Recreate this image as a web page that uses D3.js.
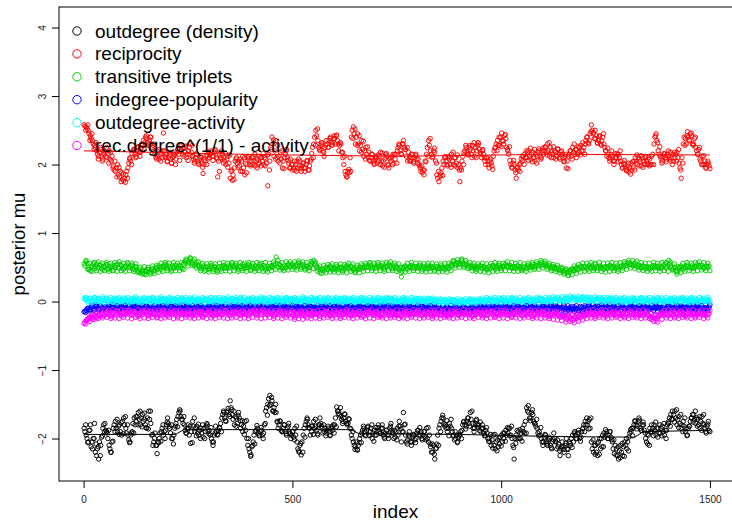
<!DOCTYPE html>
<html>
<head>
<meta charset="utf-8">
<script src="https://cdn.jsdelivr.net/npm/d3@7"></script>
<style>
  body { margin: 0; background: #ffffff; }
  svg { display: block; font-family: "Liberation Sans", Arial, sans-serif; }
</style>
</head>
<body>
<svg id="chart" width="732" height="524"></svg>
<script>
// Posterior draws of mu. Each series is kept in three arrays of 300 draws:
//   main: iterations 1, 6, 11, ...   mid: 3, 8, 13, ...   alt: 5, 10, 15, ...
const iterStep = 5;
const drawOffsets = [0, 2, 4];

const outdegree = [
  -1.85,-1.95,-2.05,-1.8,-2.15,-1.78,-2.25,-2.3,-2.1,-1.85,
  -1.78,-1.92,-2.1,-2.2,-1.85,-1.75,-1.9,-1.8,-1.95,-1.7,
  -1.85,-1.95,-2.05,-1.9,-1.7,-1.75,-1.62,-1.8,-1.65,-1.72,
  -1.85,-1.6,-1.78,-2.1,-1.92,-2.22,-2.0,-1.9,-1.95,-1.88,
  -1.7,-1.85,-2.0,-1.95,-1.78,-1.68,-1.6,-1.72,-1.8,-1.92,
  -1.85,-2.07,-1.75,-1.9,-1.82,-1.95,-1.85,-1.98,-1.9,-1.8,
  -1.88,-2.0,-2.05,-1.82,-1.95,-1.85,-1.7,-1.62,-1.75,-1.56,
  -1.45,-1.65,-1.8,-1.7,-1.62,-1.85,-1.9,-1.75,-2.0,-2.15,
  -2.24,-2.05,-1.9,-1.85,-1.95,-1.88,-1.92,-1.6,-1.5,-1.37,
  -1.45,-1.55,-1.62,-1.85,-1.75,-1.9,-1.8,-1.95,-1.78,-2.0,
  -1.9,-1.85,-2.05,-2.2,-2.24,-1.95,-1.8,-1.72,-1.85,-1.9,
  -1.75,-1.82,-1.95,-1.7,-1.85,-1.9,-1.92,-1.85,-1.95,-1.88,
  -1.8,-1.54,-1.6,-1.68,-1.75,-1.65,-1.8,-1.72,-1.95,-2.05,
  -2.12,-2.17,-2.0,-1.92,-1.85,-1.95,-1.82,-1.9,-2.0,-1.88,
  -1.95,-1.8,-1.92,-1.85,-2.0,-1.88,-1.95,-1.78,-1.92,-1.98,
  -1.85,-1.75,-2.05,-1.62,-1.95,-2.02,-1.98,-2.05,-1.95,-2.0,
  -1.88,-1.95,-2.02,-1.9,-1.85,-2.05,-2.12,-2.2,-2.3,-2.08,
  -1.85,-1.75,-1.7,-1.8,-1.9,-1.78,-1.85,-1.95,-2.0,-2.05,
  -1.95,-1.88,-1.75,-1.82,-1.7,-1.62,-1.78,-1.85,-1.72,-1.8,
  -1.9,-1.85,-1.95,-1.92,-2.0,-2.1,-1.95,-2.15,-2.02,-2.08,
  -1.95,-2.0,-1.88,-1.92,-1.85,-2.0,-2.3,-1.95,-1.9,-2.0,
  -1.85,-1.92,-1.55,-1.62,-1.7,-1.65,-1.78,-1.85,-1.9,-2.0,
  -2.05,-1.95,-2.1,-2.0,-2.15,-1.92,-2.05,-2.12,-2.25,-2.05,
  -2.2,-2.0,-2.25,-2.1,-1.95,-1.9,-2.0,-1.92,-1.98,-1.85,
  -1.75,-1.8,-1.72,-2.05,-2.2,-2.1,-2.25,-2.0,-2.12,-1.92,
  -1.95,-2.0,-1.9,-2.05,-2.22,-2.15,-2.3,-2.1,-2.25,-2.05,
  -2.15,-1.98,-1.9,-1.85,-1.75,-1.82,-1.73,-1.88,-1.8,-2.0,
  -2.08,-1.85,-1.9,-1.8,-1.95,-1.85,-1.92,-1.82,-1.95,-1.88,
  -1.78,-1.65,-1.72,-1.6,-1.8,-1.68,-1.85,-1.75,-1.9,-1.95,
  -1.82,-1.7,-1.65,-1.78,-1.72,-1.85,-1.68,-1.8,-1.92,-1.75
];
const outdegreeMid = [
  -1.9,-2.0,-1.88,-2.12,-2.0,-2.2,-2.15,-2.05,-1.98,-1.8,
  -1.88,-2.0,-2.15,-2.05,-1.8,-1.85,-1.82,-1.9,-1.75,-1.8,
  -1.92,-2.02,-1.95,-1.78,-1.8,-1.68,-1.72,-1.7,-1.75,-1.8,
  -1.7,-1.72,-1.95,-2.05,-2.1,-2.05,-1.92,-1.85,-1.9,-1.8,
  -1.78,-1.92,-2.0,-1.85,-1.72,-1.62,-1.68,-1.78,-1.88,-1.85,
  -1.95,-1.9,-1.82,-1.85,-1.92,-1.88,-1.92,-1.85,-1.82,-1.9,
  -1.95,-2.05,-1.95,-1.9,-1.88,-1.78,-1.65,-1.7,-1.62,-1.65,
  -1.55,-1.72,-1.68,-1.78,-1.7,-1.8,-1.82,-1.88,-2.1,-2.2,
  -2.12,-1.95,-1.88,-1.92,-1.9,-1.95,-1.8,-1.55,-1.42,-1.5,
  -1.6,-1.62,-1.75,-1.8,-1.88,-1.85,-1.9,-1.85,-1.92,-1.95,
  -1.98,-1.95,-2.15,-2.1,-2.05,-1.85,-1.75,-1.8,-1.95,-1.82,
  -1.85,-1.88,-1.8,-1.78,-1.92,-1.85,-1.88,-1.9,-1.85,-1.8,
  -1.7,-1.6,-1.65,-1.72,-1.7,-1.75,-1.78,-1.85,-2.0,-2.1,
  -2.05,-2.1,-1.95,-1.88,-1.9,-1.88,-1.95,-1.85,-1.92,-1.95,
  -1.88,-1.9,-1.85,-1.95,-1.92,-1.95,-1.85,-1.88,-2.0,-1.9,
  -1.95,-1.82,-1.9,-1.8,-2.05,-1.95,-2.05,-1.98,-2.02,-1.92,
  -1.95,-1.9,-1.95,-1.98,-2.0,-1.95,-2.2,-2.1,-2.15,-1.95,
  -1.8,-1.7,-1.78,-1.85,-1.85,-1.82,-1.9,-2.02,-1.95,-1.98,
  -1.9,-1.8,-1.8,-1.75,-1.78,-1.72,-1.85,-1.78,-1.8,-1.88,
  -1.85,-1.92,-1.88,-2.0,-2.05,-2.02,-2.1,-2.05,-2.12,-1.98,
  -2.05,-1.92,-1.95,-1.85,-1.95,-2.1,-2.0,-1.88,-2.0,-1.92,
  -1.9,-1.75,-1.6,-1.7,-1.62,-1.75,-1.82,-1.92,-1.95,-2.05,
  -1.98,-2.05,-2.02,-2.1,-2.05,-2.0,-2.15,-2.08,-2.15,-2.12,
  -2.1,-2.15,-2.05,-2.0,-2.05,-1.95,-1.92,-2.0,-1.9,-1.8,
  -1.8,-1.75,-1.85,-2.15,-2.1,-2.2,-2.05,-2.15,-1.95,-1.98,
  -1.9,-1.95,-1.98,-2.15,-2.1,-2.25,-2.18,-2.2,-2.12,-2.1,
  -2.05,-1.92,-1.85,-1.8,-1.8,-1.75,-1.85,-1.8,-1.88,-2.05,
  -1.95,-1.9,-1.85,-1.88,-1.85,-1.92,-1.85,-1.9,-1.88,-1.8,
  -1.7,-1.72,-1.65,-1.7,-1.72,-1.78,-1.8,-1.82,-1.85,-1.85,
  -1.75,-1.65,-1.72,-1.7,-1.8,-1.75,-1.78,-1.85,-1.82,-1.88
];
const outdegreeAlt = [
  -1.8,-2.06,-1.88,-2.05,-2.0,-2.08,-2.12,-2.25,-1.96,-1.9,
  -1.9,-1.88,-2.2,-2.04,-1.9,-1.72,-1.94,-1.77,-1.93,-1.68,
  -1.8,-2.06,-1.92,-1.92,-1.68,-1.8,-1.6,-1.83,-1.63,-1.84,
  -1.86,-1.6,-1.94,-2.0,-2.1,-2.06,-2.04,-1.8,-2.0,-1.76,
  -1.82,-1.8,-2.08,-1.82,-1.83,-1.58,-1.72,-1.68,-1.92,-1.8,
  -1.82,-2.06,-1.7,-1.96,-1.79,-2.0,-1.8,-2.0,-1.78,-1.93,
  -1.84,-2.1,-1.92,-1.94,-1.84,-1.9,-1.6,-1.74,-1.6,-1.68,
  -1.58,-1.6,-1.82,-1.66,-1.74,-1.74,-1.94,-1.74,-2.0,-2.26,
  -2.1,-2.08,-1.81,-1.96,-1.84,-2.0,-1.78,-1.66,-1.52,-1.4,
  -1.6,-1.5,-1.76,-1.74,-1.9,-1.8,-1.93,-1.82,-1.93,-1.9,
  -2.02,-1.82,-2.18,-2.07,-2.2,-1.98,-1.7,-1.84,-1.82,-1.94,
  -1.72,-1.93,-1.8,-1.82,-1.8,-1.96,-1.82,-1.96,-1.82,-1.92,
  -1.83,-1.64,-1.55,-1.78,-1.64,-1.78,-1.71,-1.86,-1.9,-2.16,
  -2.16,-2.06,-2.06,-1.82,-1.96,-1.84,-1.96,-1.8,-2.04,-1.84,
  -1.84,-1.93,-1.8,-1.98,-1.88,-2.0,-1.82,-1.91,-1.88,-2.02,
  -1.82,-1.86,-1.9,-1.79,-2.08,-1.9,-2.1,-1.94,-2.06,-1.88,
  -1.84,-2.0,-1.9,-2.02,-1.84,-2.08,-2.08,-2.23,-2.14,-2.1,
  -1.9,-1.66,-1.82,-1.74,-1.96,-1.72,-1.96,-1.9,-2.06,-1.94,
  -2.0,-1.76,-1.86,-1.7,-1.82,-1.6,-1.9,-1.74,-1.84,-1.76,
  -1.8,-1.96,-1.84,-2.04,-1.94,-2.14,-1.94,-2.18,-1.99,-2.11,
  -1.92,-2.04,-1.84,-1.96,-1.82,-2.13,-2.07,-2.0,-1.87,-2.04,
  -1.8,-1.92,-1.52,-1.74,-1.58,-1.78,-1.72,-1.96,-1.84,-2.1,
  -1.94,-2.08,-1.98,-2.13,-2.02,-2.04,-2.02,-2.18,-2.12,-2.16,
  -2.07,-2.16,-2.07,-2.13,-1.92,-2.0,-1.88,-2.04,-1.86,-1.9,
  -1.7,-1.86,-1.7,-2.02,-2.23,-2.07,-2.23,-2.0,-2.12,-1.87,
  -2.0,-1.9,-2.02,-2.02,-2.24,-2.12,-2.28,-2.07,-2.26,-2.0,
  -2.18,-1.87,-1.96,-1.74,-1.86,-1.7,-1.88,-1.76,-1.92,-1.94,
  -2.1,-1.8,-1.96,-1.76,-1.98,-1.8,-1.96,-1.78,-2.0,-1.76,
  -1.82,-1.6,-1.76,-1.58,-1.84,-1.65,-1.9,-1.7,-1.96,-1.82,
  -1.7,-1.76,-1.6,-1.82,-1.68,-1.88,-1.65,-1.9,-1.79,-1.9
];

const reciprocity = [
  2.58,2.55,2.5,2.42,2.35,2.28,2.2,2.12,2.22,2.08,
  2.18,2.1,2.2,2.05,1.98,1.9,2.0,1.82,1.88,1.76,
  1.85,1.95,2.1,2.16,2.22,2.12,2.25,2.18,2.28,2.32,
  2.38,2.3,2.4,2.28,2.15,2.2,2.08,2.18,2.46,2.1,
  2.05,2.15,2.02,2.12,2.08,2.22,2.28,2.15,2.25,2.1,
  2.2,2.3,2.12,2.05,2.15,2.0,2.1,1.87,2.05,2.14,
  2.1,2.18,2.12,2.2,1.82,2.15,2.08,2.1,2.0,2.12,
  1.8,1.77,1.95,2.1,2.05,1.9,2.12,1.85,2.0,2.08,
  2.05,2.12,1.98,2.08,2.02,2.1,2.0,2.08,1.69,2.05,
  2.4,2.12,2.35,2.05,2.18,1.95,2.1,2.22,2.02,1.95,
  2.0,1.92,2.05,1.98,1.9,2.02,1.95,2.05,1.98,2.16,
  2.3,2.5,2.35,2.2,2.3,2.12,2.35,2.25,2.4,2.3,
  2.38,2.43,2.2,2.3,2.1,1.9,1.82,1.88,2.4,2.55,
  2.3,2.45,2.2,2.35,2.12,2.25,2.1,2.05,2.15,2.0,
  2.1,2.05,2.18,1.98,2.08,2.12,1.95,2.05,2.15,2.08,
  2.2,2.28,2.15,2.35,2.22,2.05,2.12,2.1,2.02,2.15,
  2.08,1.95,1.88,1.92,2.15,2.35,2.2,2.12,2.18,1.85,
  1.75,1.88,2.05,2.12,1.98,2.08,2.15,2.0,2.1,1.95,
  1.75,2.05,2.18,2.25,2.15,2.22,2.28,2.12,2.2,2.3,
  2.15,2.22,2.05,2.1,1.95,2.02,2.12,2.25,2.35,2.28,
  2.46,2.3,2.38,2.2,2.06,1.95,2.0,1.8,1.92,2.02,
  2.05,2.15,2.1,2.2,2.08,2.18,2.05,2.12,2.2,2.1,
  2.15,2.25,2.3,2.12,2.2,2.1,2.18,2.22,2.08,2.15,
  2.05,1.95,2.12,2.2,2.25,2.15,2.22,2.18,2.28,2.2,
  2.3,2.4,2.35,2.58,2.46,2.38,2.31,2.42,2.35,2.3,
  2.2,2.15,2.08,2.12,2.05,2.1,2.15,2.05,1.95,2.0,
  1.92,1.89,2.02,1.95,2.1,2.0,2.08,1.98,2.05,2.12,
  2.02,2.08,2.0,2.3,2.45,2.2,2.12,2.05,2.15,2.08,
  2.12,2.05,2.15,2.1,2.18,2.02,1.8,2.3,2.38,2.48,
  2.35,2.42,2.3,2.25,2.15,2.08,2.12,2.0,1.95,2.02
];
const reciprocityMid = [
  2.56,2.52,2.45,2.38,2.3,2.25,2.15,2.18,2.12,2.15,
  2.12,2.16,2.08,2.12,1.92,1.95,1.85,1.9,1.78,1.8,
  1.9,2.02,2.05,2.2,2.15,2.2,2.18,2.24,2.35,2.4,
  2.32,2.36,2.3,2.2,2.1,2.12,2.15,2.1,2.2,2.15,
  2.1,2.08,2.1,2.15,2.18,2.15,2.2,2.24,2.18,2.15,
  2.25,2.18,2.08,2.1,2.05,2.08,2.02,2.0,2.12,2.08,
  2.15,2.12,2.18,2.1,2.05,2.1,2.15,2.05,2.08,2.02,
  1.9,1.85,2.05,2.02,1.98,2.05,1.95,2.02,2.1,2.0,
  2.1,2.05,2.05,2.0,2.1,2.05,2.1,2.02,2.15,2.25,
  2.3,2.2,2.1,2.12,2.08,2.05,2.15,2.1,1.95,2.0,
  1.95,2.0,1.95,2.05,1.98,1.95,2.0,1.92,2.05,2.25,
  2.4,2.42,2.25,2.28,2.2,2.25,2.3,2.35,2.32,2.38,
  2.3,2.35,2.28,2.18,2.0,1.85,1.9,2.1,2.5,2.45,
  2.4,2.3,2.28,2.22,2.2,2.15,2.18,2.1,2.05,2.08,
  2.02,2.12,2.05,2.05,2.15,2.0,2.08,2.12,2.02,2.15,
  2.25,2.2,2.3,2.25,2.12,2.18,2.05,2.15,2.1,2.08,
  2.0,1.9,1.92,2.05,2.25,2.28,2.15,2.2,2.05,1.8,
  1.82,1.95,2.0,2.05,2.1,2.0,2.05,2.1,2.02,2.0,
  1.95,2.12,2.2,2.18,2.25,2.15,2.2,2.25,2.28,2.22,
  2.1,2.15,2.0,2.05,2.05,1.98,2.2,2.3,2.28,2.4,
  2.35,2.42,2.25,2.15,2.0,2.02,1.92,1.95,2.0,2.08,
  2.12,2.1,2.18,2.12,2.15,2.1,2.15,2.18,2.12,2.2,
  2.2,2.18,2.2,2.25,2.15,2.2,2.12,2.15,2.18,2.1,
  2.12,2.05,2.15,2.12,2.18,2.22,2.15,2.25,2.2,2.25,
  2.35,2.32,2.45,2.5,2.38,2.42,2.35,2.3,2.4,2.25,
  2.12,2.1,2.15,2.05,2.1,2.15,2.1,2.0,2.02,1.95,
  1.98,1.95,1.92,2.05,2.02,2.1,2.05,2.1,2.0,2.05,
  2.1,2.0,2.15,2.4,2.35,2.15,2.08,2.12,2.1,2.15,
  2.08,2.1,2.05,2.15,2.1,1.95,2.1,2.4,2.3,2.4,
  2.45,2.3,2.38,2.2,2.22,2.05,2.0,2.05,2.0,1.98
];
const reciprocityAlt = [
  2.5,2.58,2.35,2.45,2.22,2.32,2.08,2.25,2.05,2.2,
  2.25,2.02,2.18,1.95,2.05,1.82,1.96,1.75,1.86,1.74,
  1.8,2.08,2.0,2.22,2.1,2.26,2.12,2.3,2.22,2.42,
  2.28,2.4,2.25,2.3,2.08,2.22,2.05,2.2,2.12,2.04,
  2.18,2.02,2.15,2.0,2.22,2.06,2.28,2.12,2.27,2.06,
  2.14,2.28,2.02,2.16,2.02,2.12,1.96,2.08,2.0,2.18,
  2.2,2.06,2.22,2.08,1.9,2.2,2.02,2.16,1.96,2.14,
  1.92,1.78,2.08,1.96,2.08,1.9,2.1,1.88,2.12,1.98,
  2.0,2.15,1.95,2.12,1.98,2.16,1.98,2.14,1.92,2.22,
  2.36,2.08,2.28,2.02,2.2,1.94,2.2,2.06,2.08,1.92,
  2.05,1.9,2.08,1.94,2.02,1.9,2.06,1.92,2.08,2.1,
  2.28,2.52,2.22,2.32,2.18,2.28,2.25,2.38,2.28,2.42,
  2.42,2.3,2.32,2.18,2.12,1.82,1.93,1.9,2.38,2.52,
  2.28,2.42,2.18,2.34,2.08,2.26,2.06,2.15,2.02,2.12,
  2.14,2.0,2.17,1.96,2.16,1.99,2.1,2.0,2.15,2.02,
  2.3,2.16,2.3,2.22,2.25,2.06,2.15,2.04,2.13,2.02,
  1.98,1.98,1.85,2.04,2.12,2.38,2.1,2.24,2.02,1.9,
  1.84,1.84,2.1,2.0,2.12,1.96,2.18,1.98,2.14,1.92,
  1.92,2.0,2.28,2.14,2.28,2.1,2.32,2.1,2.32,2.18,
  2.2,2.1,2.1,2.0,2.08,1.93,2.24,2.2,2.4,2.26,
  2.34,2.44,2.22,2.26,1.96,2.06,1.88,1.96,1.9,2.12,
  2.0,2.2,2.06,2.24,2.04,2.22,2.02,2.23,2.08,2.24,
  2.26,2.14,2.32,2.1,2.26,2.08,2.23,2.1,2.2,2.04,
  2.15,1.94,2.2,2.08,2.3,2.1,2.26,2.14,2.32,2.15,
  2.4,2.3,2.48,2.46,2.5,2.32,2.41,2.28,2.45,2.2,
  2.24,2.05,2.2,2.0,2.16,2.04,2.2,1.95,2.06,1.91,
  2.02,1.86,2.04,1.92,2.14,1.98,2.13,1.96,2.1,2.0,
  1.98,2.12,2.0,2.42,2.32,2.26,2.02,2.16,2.04,2.2,
  2.18,2.0,2.18,2.05,2.22,1.92,2.02,2.28,2.42,2.36,
  2.46,2.28,2.4,2.15,2.25,2.0,2.13,1.95,2.05,1.94
];

const transitiveTriplets = [
  0.55,0.6,0.5,0.45,0.52,0.48,0.55,0.5,0.53,0.47,
  0.5,0.54,0.48,0.52,0.46,0.5,0.55,0.49,0.52,0.47,
  0.51,0.55,0.49,0.53,0.47,0.5,0.44,0.42,0.46,0.4,
  0.44,0.47,0.43,0.48,0.45,0.5,0.52,0.47,0.5,0.54,
  0.48,0.51,0.46,0.5,0.53,0.49,0.52,0.48,0.56,0.6,
  0.58,0.63,0.55,0.52,0.57,0.5,0.48,0.52,0.46,0.5,
  0.48,0.53,0.47,0.5,0.45,0.51,0.49,0.53,0.48,0.52,
  0.5,0.55,0.49,0.52,0.47,0.51,0.54,0.48,0.5,0.53,
  0.47,0.5,0.52,0.48,0.55,0.5,0.53,0.46,0.51,0.49,
  0.52,0.55,0.65,0.5,0.53,0.48,0.52,0.5,0.55,0.51,
  0.54,0.49,0.53,0.56,0.5,0.54,0.48,0.52,0.5,0.55,
  0.6,0.53,0.5,0.42,0.48,0.45,0.5,0.47,0.52,0.46,
  0.49,0.51,0.47,0.5,0.45,0.49,0.53,0.48,0.51,0.46,
  0.43,0.5,0.47,0.52,0.49,0.53,0.5,0.55,0.48,0.52,
  0.5,0.54,0.49,0.52,0.47,0.51,0.55,0.5,0.48,0.53,
  0.5,0.46,0.36,0.48,0.52,0.47,0.5,0.53,0.48,0.51,
  0.49,0.53,0.47,0.51,0.5,0.48,0.52,0.49,0.46,0.51,
  0.48,0.52,0.5,0.47,0.51,0.49,0.55,0.58,0.53,0.57,
  0.55,0.6,0.52,0.56,0.5,0.53,0.49,0.51,0.47,0.5,
  0.52,0.48,0.5,0.46,0.51,0.49,0.53,0.47,0.5,0.52,
  0.48,0.51,0.55,0.5,0.53,0.48,0.51,0.49,0.52,0.5,
  0.47,0.51,0.49,0.53,0.5,0.54,0.49,0.55,0.52,0.57,
  0.53,0.55,0.5,0.52,0.48,0.51,0.47,0.5,0.45,0.48,
  0.42,0.46,0.38,0.44,0.48,0.45,0.5,0.47,0.52,0.49,
  0.51,0.47,0.53,0.49,0.5,0.54,0.48,0.52,0.5,0.47,
  0.51,0.49,0.53,0.48,0.5,0.52,0.47,0.51,0.49,0.55,
  0.53,0.57,0.55,0.52,0.56,0.5,0.53,0.49,0.52,0.48,
  0.51,0.47,0.5,0.53,0.49,0.52,0.48,0.5,0.54,0.49,
  0.6,0.52,0.47,0.5,0.4,0.48,0.52,0.47,0.5,0.53,
  0.49,0.52,0.48,0.51,0.55,0.5,0.53,0.48,0.52,0.5
];
const transitiveTripletsMid = [
  0.52,0.56,0.47,0.5,0.55,0.51,0.49,0.53,0.48,0.51,
  0.53,0.47,0.51,0.49,0.52,0.53,0.5,0.54,0.48,0.5,
  0.53,0.5,0.52,0.48,0.51,0.46,0.47,0.44,0.43,0.45,
  0.47,0.42,0.46,0.44,0.49,0.47,0.49,0.51,0.53,0.5,
  0.52,0.48,0.53,0.49,0.5,0.52,0.49,0.54,0.58,0.56,
  0.61,0.57,0.59,0.55,0.53,0.52,0.5,0.49,0.51,0.47,
  0.51,0.49,0.51,0.47,0.49,0.47,0.52,0.5,0.5,0.49,
  0.53,0.51,0.52,0.49,0.5,0.48,0.51,0.52,0.54,0.5,
  0.52,0.48,0.49,0.51,0.52,0.48,0.5,0.49,0.48,0.52,
  0.5,0.53,0.56,0.54,0.5,0.51,0.49,0.53,0.52,0.54,
  0.51,0.52,0.56,0.53,0.52,0.51,0.51,0.49,0.53,0.57,
  0.56,0.5,0.47,0.45,0.46,0.48,0.47,0.5,0.49,0.48,
  0.47,0.49,0.5,0.48,0.47,0.51,0.5,0.51,0.49,0.48,
  0.46,0.48,0.5,0.49,0.51,0.5,0.53,0.52,0.5,0.49,
  0.52,0.51,0.52,0.49,0.5,0.53,0.52,0.48,0.51,0.5,
  0.48,0.5,0.44,0.51,0.49,0.5,0.52,0.5,0.51,0.49,
  0.52,0.5,0.49,0.48,0.52,0.5,0.49,0.51,0.49,0.48,
  0.5,0.49,0.48,0.5,0.49,0.52,0.53,0.55,0.56,0.54,
  0.58,0.55,0.54,0.53,0.52,0.5,0.52,0.48,0.5,0.52,
  0.49,0.51,0.48,0.49,0.48,0.52,0.5,0.5,0.53,0.49,
  0.51,0.53,0.52,0.51,0.5,0.5,0.49,0.52,0.49,0.48,
  0.5,0.48,0.52,0.5,0.52,0.51,0.52,0.53,0.55,0.54,
  0.56,0.52,0.53,0.49,0.5,0.49,0.48,0.47,0.46,0.44,
  0.45,0.43,0.42,0.47,0.46,0.48,0.47,0.5,0.5,0.51,
  0.49,0.5,0.5,0.52,0.48,0.51,0.5,0.49,0.48,0.5,
  0.49,0.52,0.5,0.51,0.48,0.5,0.49,0.52,0.53,0.52,
  0.56,0.54,0.53,0.55,0.53,0.52,0.5,0.51,0.5,0.5,
  0.49,0.49,0.52,0.5,0.51,0.5,0.5,0.52,0.51,0.52,
  0.55,0.49,0.49,0.45,0.44,0.5,0.5,0.49,0.52,0.51,
  0.5,0.5,0.5,0.53,0.52,0.52,0.5,0.5,0.51,0.52
];
const transitiveTripletsAlt = [
  0.58,0.47,0.56,0.44,0.57,0.45,0.58,0.44,0.56,0.45,
  0.57,0.44,0.56,0.45,0.57,0.44,0.58,0.45,0.56,0.44,
  0.57,0.45,0.56,0.44,0.55,0.42,0.5,0.4,0.51,0.39,
  0.5,0.4,0.52,0.41,0.53,0.43,0.56,0.44,0.57,0.45,
  0.56,0.44,0.57,0.45,0.56,0.45,0.57,0.47,0.62,0.52,
  0.64,0.53,0.62,0.49,0.58,0.45,0.56,0.44,0.55,0.43,
  0.56,0.44,0.55,0.43,0.56,0.44,0.57,0.45,0.56,0.44,
  0.57,0.45,0.56,0.44,0.57,0.45,0.56,0.44,0.57,0.45,
  0.56,0.44,0.57,0.45,0.56,0.44,0.57,0.43,0.56,0.45,
  0.58,0.47,0.6,0.46,0.57,0.45,0.58,0.46,0.58,0.47,
  0.58,0.46,0.59,0.47,0.58,0.46,0.57,0.45,0.59,0.48,
  0.58,0.44,0.52,0.41,0.53,0.42,0.54,0.43,0.55,0.43,
  0.54,0.42,0.55,0.43,0.54,0.42,0.56,0.44,0.55,0.42,
  0.53,0.42,0.55,0.44,0.56,0.45,0.57,0.45,0.56,0.44,
  0.57,0.45,0.56,0.44,0.57,0.45,0.58,0.45,0.56,0.44,
  0.55,0.42,0.5,0.43,0.56,0.44,0.57,0.45,0.56,0.44,
  0.56,0.44,0.55,0.43,0.56,0.44,0.56,0.44,0.55,0.43,
  0.55,0.44,0.56,0.43,0.56,0.45,0.6,0.49,0.61,0.5,
  0.62,0.5,0.6,0.48,0.57,0.45,0.56,0.44,0.55,0.44,
  0.56,0.43,0.55,0.42,0.56,0.44,0.57,0.44,0.56,0.45,
  0.56,0.45,0.58,0.45,0.57,0.44,0.56,0.44,0.57,0.45,
  0.55,0.44,0.56,0.46,0.57,0.47,0.58,0.47,0.6,0.49,
  0.59,0.47,0.56,0.45,0.54,0.44,0.53,0.42,0.5,0.4,
  0.48,0.38,0.46,0.39,0.52,0.41,0.54,0.43,0.56,0.44,
  0.56,0.44,0.57,0.45,0.56,0.45,0.57,0.44,0.56,0.43,
  0.56,0.44,0.57,0.45,0.56,0.44,0.57,0.45,0.58,0.47,
  0.6,0.49,0.6,0.48,0.59,0.46,0.57,0.45,0.56,0.44,
  0.56,0.44,0.57,0.45,0.56,0.44,0.57,0.45,0.57,0.44,
  0.58,0.46,0.55,0.43,0.51,0.42,0.56,0.44,0.57,0.45,
  0.56,0.44,0.57,0.45,0.58,0.46,0.57,0.45,0.56,0.45
];

const indegreePopularity = [
  -0.15,-0.13,-0.1,-0.12,-0.08,-0.11,-0.07,-0.1,-0.06,-0.09,
  -0.12,-0.08,-0.1,-0.06,-0.09,-0.11,-0.07,-0.1,-0.08,-0.05,
  -0.09,-0.07,-0.11,-0.08,-0.1,-0.06,-0.09,-0.12,-0.08,-0.1,
  -0.07,-0.09,-0.11,-0.08,-0.1,-0.12,-0.07,-0.09,-0.06,-0.1,
  -0.08,-0.11,-0.07,-0.09,-0.1,-0.06,-0.08,-0.11,-0.09,-0.07,
  -0.1,-0.08,-0.06,-0.09,-0.11,-0.07,-0.1,-0.08,-0.12,-0.09,
  -0.07,-0.1,-0.08,-0.06,-0.09,-0.11,-0.08,-0.1,-0.07,-0.09,
  -0.11,-0.08,-0.1,-0.06,-0.09,-0.07,-0.1,-0.12,-0.08,-0.09,
  -0.07,-0.1,-0.08,-0.11,-0.06,-0.09,-0.08,-0.1,-0.07,-0.09,
  -0.11,-0.08,-0.06,-0.1,-0.09,-0.07,-0.11,-0.08,-0.1,-0.06,
  -0.09,-0.08,-0.1,-0.07,-0.11,-0.09,-0.06,-0.08,-0.1,-0.07,
  -0.09,-0.11,-0.08,-0.1,-0.06,-0.09,-0.07,-0.1,-0.08,-0.11,
  -0.07,-0.09,-0.1,-0.08,-0.06,-0.1,-0.09,-0.07,-0.11,-0.08,
  -0.1,-0.07,-0.09,-0.11,-0.08,-0.06,-0.1,-0.09,-0.07,-0.1,
  -0.08,-0.11,-0.07,-0.09,-0.1,-0.06,-0.08,-0.1,-0.09,-0.07,
  -0.1,-0.08,-0.11,-0.09,-0.07,-0.1,-0.08,-0.06,-0.09,-0.11,
  -0.08,-0.1,-0.07,-0.09,-0.11,-0.08,-0.1,-0.06,-0.09,-0.08,
  -0.1,-0.12,-0.09,-0.11,-0.08,-0.1,-0.13,-0.09,-0.11,-0.08,
  -0.1,-0.12,-0.08,-0.11,-0.09,-0.12,-0.1,-0.08,-0.11,-0.09,
  -0.07,-0.1,-0.08,-0.11,-0.09,-0.06,-0.1,-0.08,-0.11,-0.07,
  -0.09,-0.1,-0.08,-0.06,-0.09,-0.11,-0.07,-0.1,-0.08,-0.09,
  -0.11,-0.08,-0.1,-0.06,-0.09,-0.07,-0.1,-0.12,-0.08,-0.09,
  -0.07,-0.1,-0.08,-0.11,-0.09,-0.06,-0.1,-0.08,-0.09,-0.11,
  -0.08,-0.1,-0.12,-0.09,-0.11,-0.08,-0.1,-0.13,-0.09,-0.11,
  -0.08,-0.1,-0.07,-0.09,-0.11,-0.08,-0.1,-0.06,-0.09,-0.08,
  -0.1,-0.07,-0.09,-0.11,-0.08,-0.1,-0.06,-0.09,-0.08,-0.1,
  -0.11,-0.08,-0.09,-0.07,-0.1,-0.08,-0.11,-0.09,-0.06,-0.1,
  -0.08,-0.09,-0.11,-0.07,-0.1,-0.08,-0.09,-0.12,-0.08,-0.1,
  -0.07,-0.09,-0.11,-0.08,-0.1,-0.06,-0.09,-0.08,-0.1,-0.07,
  -0.09,-0.11,-0.08,-0.1,-0.07,-0.09,-0.08,-0.11,-0.09,-0.1
];
const indegreePopularityMid = [
  -0.14,-0.11,-0.12,-0.08,-0.1,-0.06,-0.09,-0.12,-0.08,-0.1,
  -0.07,-0.1,-0.12,-0.08,-0.06,-0.09,-0.11,-0.07,-0.1,-0.09,
  -0.11,-0.06,-0.09,-0.1,-0.07,-0.11,-0.08,-0.06,-0.1,-0.08,
  -0.1,-0.12,-0.07,-0.09,-0.06,-0.08,-0.11,-0.1,-0.08,-0.07,
  -0.1,-0.07,-0.09,-0.12,-0.07,-0.1,-0.09,-0.06,-0.1,-0.11,
  -0.07,-0.1,-0.09,-0.11,-0.07,-0.09,-0.06,-0.11,-0.08,-0.1,
  -0.09,-0.06,-0.11,-0.09,-0.07,-0.08,-0.1,-0.07,-0.11,-0.08,
  -0.07,-0.1,-0.06,-0.09,-0.11,-0.08,-0.07,-0.09,-0.1,-0.06,
  -0.09,-0.07,-0.11,-0.08,-0.1,-0.07,-0.1,-0.08,-0.11,-0.07,
  -0.08,-0.1,-0.09,-0.07,-0.11,-0.09,-0.08,-0.1,-0.07,-0.09,
  -0.11,-0.07,-0.09,-0.1,-0.08,-0.06,-0.1,-0.09,-0.07,-0.11,
  -0.07,-0.09,-0.1,-0.07,-0.09,-0.11,-0.08,-0.07,-0.1,-0.08,
  -0.1,-0.07,-0.08,-0.11,-0.09,-0.07,-0.11,-0.08,-0.09,-0.1,
  -0.08,-0.1,-0.07,-0.09,-0.1,-0.08,-0.07,-0.11,-0.09,-0.08,
  -0.1,-0.08,-0.09,-0.07,-0.11,-0.09,-0.1,-0.07,-0.08,-0.1,
  -0.08,-0.1,-0.09,-0.07,-0.1,-0.08,-0.1,-0.09,-0.11,-0.08,
  -0.1,-0.07,-0.09,-0.11,-0.08,-0.1,-0.07,-0.09,-0.1,-0.11,
  -0.12,-0.09,-0.11,-0.1,-0.12,-0.09,-0.11,-0.12,-0.09,-0.11,
  -0.13,-0.09,-0.1,-0.12,-0.1,-0.09,-0.12,-0.1,-0.08,-0.1,
  -0.09,-0.08,-0.1,-0.07,-0.08,-0.1,-0.09,-0.1,-0.08,-0.09,
  -0.07,-0.09,-0.1,-0.08,-0.11,-0.08,-0.09,-0.07,-0.1,-0.11,
  -0.08,-0.1,-0.07,-0.09,-0.1,-0.09,-0.08,-0.1,-0.11,-0.07,
  -0.09,-0.08,-0.1,-0.07,-0.1,-0.09,-0.08,-0.11,-0.1,-0.09,
  -0.11,-0.12,-0.09,-0.11,-0.1,-0.12,-0.11,-0.1,-0.12,-0.09,
  -0.1,-0.08,-0.09,-0.11,-0.08,-0.1,-0.07,-0.09,-0.1,-0.09,
  -0.08,-0.1,-0.1,-0.08,-0.09,-0.07,-0.1,-0.08,-0.09,-0.11,
  -0.09,-0.1,-0.07,-0.1,-0.09,-0.1,-0.07,-0.08,-0.1,-0.08,
  -0.1,-0.1,-0.08,-0.09,-0.08,-0.11,-0.1,-0.09,-0.11,-0.08,
  -0.09,-0.08,-0.09,-0.1,-0.07,-0.09,-0.1,-0.09,-0.08,-0.09,
  -0.1,-0.09,-0.1,-0.08,-0.09,-0.1,-0.1,-0.09,-0.11,-0.08
];
const indegreePopularityAlt = [
  -0.16,-0.1,-0.14,-0.05,-0.13,-0.04,-0.12,-0.06,-0.13,-0.04,
  -0.12,-0.05,-0.14,-0.04,-0.11,-0.06,-0.13,-0.04,-0.12,-0.05,
  -0.13,-0.05,-0.12,-0.04,-0.14,-0.05,-0.11,-0.04,-0.13,-0.06,
  -0.12,-0.04,-0.13,-0.05,-0.11,-0.04,-0.14,-0.06,-0.12,-0.05,
  -0.13,-0.04,-0.12,-0.06,-0.13,-0.05,-0.11,-0.04,-0.13,-0.05,
  -0.12,-0.06,-0.14,-0.04,-0.12,-0.05,-0.13,-0.04,-0.11,-0.05,
  -0.13,-0.04,-0.12,-0.05,-0.14,-0.06,-0.12,-0.04,-0.13,-0.05,
  -0.11,-0.05,-0.13,-0.04,-0.12,-0.06,-0.13,-0.05,-0.12,-0.04,
  -0.13,-0.06,-0.12,-0.04,-0.13,-0.05,-0.11,-0.04,-0.14,-0.05,
  -0.12,-0.04,-0.13,-0.06,-0.12,-0.05,-0.13,-0.04,-0.11,-0.05,
  -0.13,-0.05,-0.12,-0.04,-0.13,-0.06,-0.12,-0.05,-0.14,-0.04,
  -0.12,-0.05,-0.13,-0.04,-0.11,-0.05,-0.13,-0.06,-0.12,-0.04,
  -0.13,-0.05,-0.12,-0.04,-0.14,-0.05,-0.12,-0.06,-0.13,-0.04,
  -0.11,-0.05,-0.13,-0.04,-0.12,-0.06,-0.13,-0.05,-0.12,-0.04,
  -0.13,-0.05,-0.11,-0.04,-0.13,-0.06,-0.12,-0.05,-0.13,-0.04,
  -0.12,-0.06,-0.13,-0.04,-0.12,-0.05,-0.14,-0.04,-0.12,-0.05,
  -0.13,-0.04,-0.12,-0.05,-0.13,-0.06,-0.12,-0.04,-0.13,-0.06,
  -0.15,-0.06,-0.14,-0.07,-0.15,-0.06,-0.14,-0.07,-0.15,-0.06,
  -0.14,-0.07,-0.15,-0.06,-0.14,-0.07,-0.15,-0.06,-0.13,-0.05,
  -0.12,-0.05,-0.13,-0.04,-0.12,-0.06,-0.13,-0.05,-0.12,-0.04,
  -0.13,-0.05,-0.11,-0.04,-0.13,-0.06,-0.12,-0.05,-0.13,-0.04,
  -0.12,-0.06,-0.13,-0.04,-0.12,-0.05,-0.14,-0.04,-0.12,-0.05,
  -0.13,-0.04,-0.12,-0.05,-0.13,-0.06,-0.12,-0.04,-0.14,-0.05,
  -0.15,-0.06,-0.14,-0.07,-0.15,-0.06,-0.14,-0.07,-0.15,-0.06,
  -0.13,-0.05,-0.12,-0.04,-0.13,-0.06,-0.12,-0.05,-0.13,-0.04,
  -0.12,-0.05,-0.13,-0.04,-0.12,-0.06,-0.13,-0.05,-0.11,-0.04,
  -0.13,-0.05,-0.12,-0.04,-0.13,-0.06,-0.12,-0.05,-0.13,-0.04,
  -0.12,-0.06,-0.13,-0.05,-0.14,-0.04,-0.12,-0.05,-0.13,-0.06,
  -0.12,-0.04,-0.13,-0.05,-0.12,-0.06,-0.13,-0.04,-0.12,-0.05,
  -0.13,-0.05,-0.12,-0.04,-0.13,-0.06,-0.12,-0.05,-0.13,-0.05
];

const outdegreeActivity = [
  0.05,0.03,0.0,0.04,0.02,0.06,0.01,0.03,0.0,0.04,
  0.02,0.05,0.01,0.03,-0.01,0.02,0.04,0.0,0.03,0.01,
  0.04,0.02,0.0,0.03,0.05,0.01,0.03,-0.01,0.02,0.04,
  0.0,0.03,0.01,0.05,0.02,0.0,0.03,0.01,0.04,0.02,
  0.0,0.02,0.04,0.01,0.03,0.0,0.02,0.05,0.01,0.03,
  0.02,0.0,0.04,0.02,0.01,0.03,-0.01,0.02,0.04,0.01,
  0.03,0.0,0.02,0.05,0.01,0.03,0.0,0.02,0.04,0.01,
  0.02,0.04,0.0,0.03,0.01,0.06,0.02,0.0,0.03,0.01,
  0.04,0.02,0.0,0.03,0.01,0.02,0.05,0.0,0.03,0.02,
  0.0,0.03,0.01,0.04,0.02,0.0,0.03,0.05,0.01,0.02,
  0.04,0.01,0.03,0.0,0.02,0.05,0.01,0.03,0.0,0.02,
  0.03,0.01,0.04,0.02,0.0,0.03,0.01,0.05,0.02,0.0,
  0.03,0.01,0.02,0.04,0.0,0.02,0.03,0.01,0.04,0.02,
  0.0,0.03,0.01,0.02,0.04,0.0,0.02,0.01,0.03,0.0,
  0.02,0.04,0.01,0.03,0.0,0.02,0.05,0.01,0.03,0.0,
  0.02,0.0,0.03,0.01,0.04,0.02,0.0,0.03,0.01,0.02,
  0.04,0.01,0.03,0.0,0.02,0.05,0.01,0.03,0.0,0.02,
  0.01,0.03,0.0,0.02,-0.01,0.01,0.03,0.0,0.02,-0.01,
  0.01,0.0,0.02,-0.01,0.01,0.03,0.0,0.02,0.0,0.01,
  0.03,0.0,0.02,0.01,0.04,0.02,0.0,0.03,0.01,0.02,
  0.04,0.01,0.03,0.0,0.02,0.05,0.01,0.03,0.02,0.0,
  0.03,0.01,0.04,0.02,0.0,0.03,0.01,0.02,0.05,0.01,
  0.03,0.0,0.02,0.04,0.01,0.03,0.05,0.02,0.04,0.01,
  0.03,0.05,0.02,0.04,0.06,0.03,0.05,0.02,0.04,0.06,
  0.03,0.05,0.02,0.04,0.01,0.03,0.05,0.02,0.04,0.03,
  0.01,0.03,0.05,0.02,0.04,0.0,0.03,0.01,0.04,0.02,
  0.0,0.03,0.01,0.04,0.02,0.0,0.03,0.05,0.01,0.02,
  0.04,0.0,0.02,0.03,0.01,0.04,0.02,0.0,0.03,0.01,
  0.02,0.04,0.0,0.03,0.01,0.02,0.05,0.01,0.03,0.0,
  0.02,0.04,0.01,0.03,0.0,0.02,0.04,0.01,0.03,0.02
];
const outdegreeActivityMid = [
  0.03,0.05,0.02,0.01,0.04,0.03,0.04,0.01,0.02,0.02,
  0.04,0.02,0.03,0.0,0.02,0.04,0.01,0.02,0.01,0.03,
  0.02,0.01,0.03,0.04,0.02,0.03,0.0,0.02,0.03,0.01,
  0.02,0.04,0.03,0.02,0.0,0.02,0.04,0.03,0.01,0.03,
  0.02,0.04,0.02,0.03,0.01,0.03,0.04,0.02,0.03,0.01,
  0.03,0.03,0.01,0.0,0.03,0.02,0.02,0.04,0.02,0.03,
  0.01,0.02,0.04,0.02,0.03,0.01,0.02,0.04,0.02,0.03,
  0.04,0.01,0.02,0.03,0.04,0.03,0.01,0.02,0.03,0.03,
  0.02,0.01,0.03,0.02,0.03,0.04,0.02,0.02,0.01,0.04,
  0.02,0.01,0.03,0.02,0.01,0.02,0.04,0.02,0.03,0.04,
  0.02,0.03,0.01,0.02,0.04,0.02,0.03,0.02,0.01,0.04,
  0.01,0.03,0.02,0.0,0.02,0.03,0.03,0.02,0.01,0.02,
  0.02,0.04,0.03,0.01,0.02,0.04,0.01,0.03,0.02,0.01,
  0.02,0.01,0.03,0.04,0.01,0.02,0.01,0.03,0.01,0.02,
  0.03,0.01,0.02,0.01,0.03,0.04,0.02,0.03,0.01,0.02,
  0.01,0.02,0.01,0.03,0.02,0.01,0.02,0.01,0.02,0.04,
  0.02,0.02,0.01,0.02,0.03,0.03,0.02,0.01,0.02,0.01,
  0.0,0.01,0.02,0.0,0.0,0.02,0.01,0.01,0.0,0.0,
  0.0,0.01,0.0,0.0,0.02,0.01,0.01,0.01,0.0,0.02,
  0.01,0.01,0.03,0.02,0.02,0.01,0.02,0.02,0.01,0.03,
  0.02,0.02,0.01,0.01,0.03,0.03,0.02,0.01,0.0,0.01,
  0.02,0.02,0.03,0.01,0.01,0.02,0.02,0.03,0.03,0.02,
  0.01,0.01,0.03,0.02,0.02,0.04,0.03,0.03,0.02,0.02,
  0.04,0.04,0.03,0.05,0.04,0.04,0.03,0.03,0.05,0.04,
  0.04,0.03,0.03,0.02,0.02,0.04,0.03,0.03,0.03,0.02,
  0.02,0.04,0.03,0.03,0.02,0.01,0.02,0.02,0.03,0.01,
  0.01,0.02,0.02,0.03,0.01,0.01,0.04,0.03,0.01,0.03,
  0.02,0.01,0.03,0.02,0.02,0.03,0.01,0.01,0.02,0.01,
  0.03,0.02,0.01,0.02,0.02,0.03,0.03,0.02,0.01,0.01,
  0.03,0.02,0.02,0.02,0.01,0.03,0.02,0.02,0.02,0.03
];
const outdegreeActivityAlt = [
  0.06,-0.01,0.05,-0.02,0.06,0.0,0.05,-0.01,0.07,-0.02,
  0.05,0.0,0.06,-0.01,0.05,-0.02,0.06,0.0,0.05,-0.01,
  0.06,-0.02,0.05,0.0,0.07,-0.01,0.05,-0.02,0.06,0.0,
  0.05,-0.01,0.06,-0.02,0.05,0.0,0.07,-0.01,0.05,-0.02,
  0.06,0.0,0.05,-0.01,0.06,-0.02,0.05,0.0,0.06,-0.01,
  0.05,-0.02,0.07,0.0,0.05,-0.01,0.06,-0.02,0.05,0.0,
  0.06,-0.01,0.05,-0.02,0.06,0.0,0.05,-0.01,0.07,-0.02,
  0.05,0.0,0.06,-0.01,0.05,-0.02,0.06,0.0,0.05,-0.01,
  0.06,-0.02,0.05,0.0,0.07,-0.01,0.05,-0.02,0.06,0.0,
  0.05,-0.01,0.06,-0.02,0.05,0.0,0.06,-0.01,0.05,-0.02,
  0.06,0.0,0.05,-0.01,0.07,-0.02,0.05,0.0,0.06,-0.01,
  0.05,-0.02,0.06,0.0,0.05,-0.01,0.06,-0.02,0.05,0.0,
  0.06,-0.01,0.05,-0.02,0.06,0.0,0.05,-0.01,0.06,-0.02,
  0.05,0.0,0.06,-0.01,0.05,-0.02,0.06,0.0,0.05,-0.01,
  0.06,-0.02,0.05,0.0,0.06,-0.01,0.05,-0.02,0.06,0.0,
  0.05,-0.01,0.06,-0.02,0.05,0.0,0.06,-0.01,0.05,-0.02,
  0.05,0.0,0.05,-0.01,0.04,-0.02,0.05,-0.01,0.04,-0.02,
  0.04,-0.03,0.03,-0.02,0.04,-0.03,0.03,-0.02,0.04,-0.03,
  0.03,-0.02,0.04,-0.03,0.04,-0.02,0.03,-0.03,0.04,-0.01,
  0.05,-0.01,0.06,-0.02,0.05,0.0,0.06,-0.01,0.05,-0.02,
  0.06,0.0,0.05,-0.01,0.06,-0.02,0.05,0.0,0.06,-0.01,
  0.05,-0.02,0.06,0.0,0.05,-0.01,0.06,-0.02,0.05,0.0,
  0.06,-0.01,0.06,0.0,0.07,0.0,0.06,0.01,0.07,0.0,
  0.07,0.01,0.08,0.01,0.07,0.02,0.08,0.01,0.07,0.01,
  0.07,0.0,0.06,0.01,0.07,0.0,0.06,-0.01,0.06,0.0,
  0.06,-0.01,0.05,0.0,0.06,-0.02,0.05,-0.01,0.06,-0.02,
  0.05,0.0,0.06,-0.01,0.05,-0.02,0.06,0.0,0.05,-0.01,
  0.06,-0.02,0.05,0.0,0.06,-0.01,0.05,-0.02,0.06,0.0,
  0.05,-0.01,0.06,-0.02,0.05,0.0,0.06,-0.01,0.05,-0.02,
  0.06,0.0,0.05,-0.01,0.06,-0.02,0.05,0.0,0.06,-0.01
];

const recDegreeActivity = [
  -0.32,-0.28,-0.25,-0.22,-0.26,-0.2,-0.24,-0.18,-0.22,-0.17,
  -0.2,-0.15,-0.19,-0.22,-0.16,-0.2,-0.14,-0.18,-0.21,-0.16,
  -0.19,-0.13,-0.17,-0.2,-0.15,-0.18,-0.22,-0.16,-0.19,-0.14,
  -0.18,-0.21,-0.15,-0.19,-0.17,-0.23,-0.16,-0.2,-0.14,-0.18,
  -0.21,-0.16,-0.19,-0.14,-0.18,-0.22,-0.15,-0.19,-0.17,-0.2,
  -0.15,-0.18,-0.21,-0.16,-0.2,-0.14,-0.18,-0.22,-0.17,-0.19,
  -0.14,-0.18,-0.21,-0.16,-0.19,-0.15,-0.2,-0.17,-0.13,-0.18,
  -0.21,-0.16,-0.19,-0.14,-0.18,-0.2,-0.15,-0.19,-0.17,-0.21,
  -0.16,-0.13,-0.18,-0.2,-0.15,-0.19,-0.12,-0.17,-0.2,-0.15,
  -0.18,-0.22,-0.16,-0.19,-0.14,-0.18,-0.21,-0.16,-0.2,-0.15,
  -0.19,-0.23,-0.17,-0.2,-0.15,-0.19,-0.22,-0.16,-0.18,-0.21,
  -0.15,-0.19,-0.17,-0.22,-0.16,-0.2,-0.14,-0.18,-0.21,-0.17,
  -0.2,-0.15,-0.18,-0.22,-0.17,-0.19,-0.14,-0.18,-0.21,-0.16,
  -0.19,-0.15,-0.2,-0.17,-0.22,-0.16,-0.19,-0.14,-0.18,-0.2,
  -0.16,-0.19,-0.22,-0.17,-0.2,-0.15,-0.18,-0.21,-0.16,-0.19,
  -0.2,-0.17,-0.22,-0.18,-0.15,-0.2,-0.17,-0.21,-0.16,-0.19,
  -0.14,-0.18,-0.21,-0.17,-0.2,-0.15,-0.19,-0.22,-0.16,-0.19,
  -0.17,-0.2,-0.15,-0.19,-0.22,-0.16,-0.2,-0.18,-0.14,-0.19,
  -0.21,-0.16,-0.19,-0.15,-0.2,-0.17,-0.22,-0.16,-0.19,-0.15,
  -0.18,-0.21,-0.16,-0.2,-0.17,-0.14,-0.19,-0.22,-0.17,-0.2,
  -0.16,-0.19,-0.15,-0.2,-0.18,-0.22,-0.16,-0.19,-0.14,-0.18,
  -0.21,-0.17,-0.2,-0.15,-0.19,-0.22,-0.17,-0.2,-0.16,-0.19,
  -0.15,-0.2,-0.17,-0.22,-0.18,-0.21,-0.16,-0.19,-0.23,-0.2,
  -0.22,-0.26,-0.21,-0.24,-0.28,-0.22,-0.25,-0.2,-0.23,-0.19,
  -0.21,-0.17,-0.2,-0.16,-0.19,-0.22,-0.17,-0.2,-0.15,-0.19,
  -0.22,-0.17,-0.2,-0.15,-0.19,-0.21,-0.16,-0.2,-0.18,-0.22,
  -0.17,-0.2,-0.15,-0.19,-0.22,-0.16,-0.2,-0.18,-0.21,-0.16,
  -0.19,-0.22,-0.26,-0.2,-0.28,-0.22,-0.19,-0.16,-0.2,-0.17,
  -0.21,-0.16,-0.19,-0.22,-0.17,-0.2,-0.15,-0.19,-0.22,-0.18,
  -0.16,-0.2,-0.17,-0.22,-0.19,-0.15,-0.2,-0.18,-0.21,-0.17
];
const recDegreeActivityMid = [
  -0.3,-0.26,-0.23,-0.24,-0.23,-0.22,-0.21,-0.2,-0.19,-0.21,
  -0.17,-0.17,-0.21,-0.19,-0.18,-0.17,-0.16,-0.2,-0.18,-0.18,
  -0.16,-0.15,-0.19,-0.17,-0.16,-0.2,-0.19,-0.17,-0.16,-0.16,
  -0.2,-0.18,-0.17,-0.18,-0.2,-0.19,-0.18,-0.17,-0.16,-0.2,
  -0.18,-0.17,-0.17,-0.16,-0.2,-0.18,-0.17,-0.18,-0.19,-0.17,
  -0.17,-0.2,-0.18,-0.18,-0.17,-0.16,-0.2,-0.19,-0.18,-0.16,
  -0.16,-0.2,-0.18,-0.17,-0.17,-0.18,-0.18,-0.15,-0.16,-0.2,
  -0.18,-0.17,-0.16,-0.16,-0.19,-0.17,-0.17,-0.18,-0.19,-0.18,
  -0.15,-0.16,-0.19,-0.17,-0.17,-0.16,-0.15,-0.19,-0.17,-0.17,
  -0.2,-0.19,-0.17,-0.16,-0.16,-0.2,-0.18,-0.18,-0.17,-0.17,
  -0.21,-0.2,-0.18,-0.17,-0.17,-0.2,-0.19,-0.17,-0.2,-0.18,
  -0.17,-0.18,-0.2,-0.19,-0.18,-0.17,-0.16,-0.2,-0.19,-0.19,
  -0.17,-0.16,-0.2,-0.19,-0.18,-0.16,-0.16,-0.2,-0.18,-0.18,
  -0.17,-0.18,-0.19,-0.2,-0.19,-0.17,-0.16,-0.16,-0.19,-0.18,
  -0.18,-0.21,-0.19,-0.18,-0.17,-0.16,-0.2,-0.19,-0.17,-0.2,
  -0.18,-0.2,-0.2,-0.16,-0.17,-0.18,-0.19,-0.18,-0.17,-0.17,
  -0.16,-0.2,-0.19,-0.18,-0.17,-0.17,-0.21,-0.19,-0.17,-0.18,
  -0.19,-0.17,-0.17,-0.21,-0.19,-0.18,-0.19,-0.16,-0.16,-0.2,
  -0.18,-0.17,-0.17,-0.18,-0.18,-0.2,-0.19,-0.17,-0.17,-0.17,
  -0.2,-0.18,-0.18,-0.19,-0.15,-0.16,-0.21,-0.19,-0.18,-0.18,
  -0.17,-0.17,-0.18,-0.19,-0.2,-0.19,-0.17,-0.16,-0.16,-0.2,
  -0.19,-0.18,-0.17,-0.17,-0.21,-0.19,-0.18,-0.18,-0.17,-0.17,
  -0.18,-0.19,-0.2,-0.2,-0.19,-0.18,-0.17,-0.21,-0.22,-0.21,
  -0.24,-0.23,-0.22,-0.26,-0.25,-0.23,-0.22,-0.21,-0.21,-0.2,
  -0.19,-0.18,-0.18,-0.17,-0.2,-0.19,-0.18,-0.17,-0.17,-0.2,
  -0.19,-0.18,-0.17,-0.17,-0.2,-0.18,-0.18,-0.19,-0.2,-0.19,
  -0.18,-0.17,-0.17,-0.2,-0.19,-0.18,-0.19,-0.2,-0.18,-0.17,
  -0.2,-0.24,-0.23,-0.24,-0.25,-0.2,-0.17,-0.18,-0.18,-0.19,
  -0.18,-0.17,-0.2,-0.19,-0.18,-0.17,-0.17,-0.2,-0.2,-0.17,
  -0.18,-0.18,-0.19,-0.2,-0.17,-0.17,-0.19,-0.19,-0.19,-0.18
];
const recDegreeActivityAlt = [
  -0.33,-0.27,-0.29,-0.2,-0.26,-0.15,-0.25,-0.13,-0.24,-0.12,
  -0.23,-0.13,-0.25,-0.12,-0.24,-0.14,-0.25,-0.12,-0.23,-0.13,
  -0.24,-0.12,-0.25,-0.14,-0.23,-0.12,-0.25,-0.13,-0.24,-0.12,
  -0.25,-0.14,-0.23,-0.12,-0.24,-0.13,-0.25,-0.12,-0.24,-0.14,
  -0.23,-0.12,-0.25,-0.13,-0.24,-0.12,-0.25,-0.14,-0.23,-0.12,
  -0.24,-0.13,-0.25,-0.12,-0.24,-0.14,-0.23,-0.12,-0.25,-0.13,
  -0.24,-0.12,-0.25,-0.14,-0.23,-0.12,-0.24,-0.13,-0.25,-0.12,
  -0.24,-0.14,-0.23,-0.12,-0.25,-0.13,-0.24,-0.12,-0.25,-0.14,
  -0.23,-0.12,-0.24,-0.13,-0.25,-0.12,-0.24,-0.14,-0.23,-0.12,
  -0.25,-0.13,-0.24,-0.12,-0.25,-0.14,-0.23,-0.12,-0.24,-0.13,
  -0.26,-0.14,-0.25,-0.13,-0.26,-0.14,-0.24,-0.13,-0.25,-0.14,
  -0.24,-0.13,-0.25,-0.12,-0.24,-0.14,-0.23,-0.12,-0.25,-0.13,
  -0.24,-0.12,-0.25,-0.14,-0.23,-0.12,-0.24,-0.13,-0.25,-0.12,
  -0.24,-0.14,-0.23,-0.12,-0.25,-0.13,-0.24,-0.12,-0.25,-0.14,
  -0.23,-0.12,-0.24,-0.13,-0.25,-0.12,-0.24,-0.14,-0.23,-0.12,
  -0.25,-0.13,-0.24,-0.12,-0.25,-0.14,-0.23,-0.12,-0.24,-0.13,
  -0.25,-0.12,-0.24,-0.14,-0.23,-0.12,-0.25,-0.13,-0.24,-0.12,
  -0.25,-0.14,-0.23,-0.12,-0.24,-0.13,-0.25,-0.12,-0.24,-0.14,
  -0.23,-0.12,-0.25,-0.13,-0.24,-0.12,-0.25,-0.14,-0.23,-0.12,
  -0.24,-0.13,-0.25,-0.12,-0.24,-0.14,-0.23,-0.12,-0.25,-0.13,
  -0.24,-0.12,-0.25,-0.14,-0.23,-0.12,-0.24,-0.13,-0.25,-0.12,
  -0.24,-0.14,-0.23,-0.12,-0.25,-0.13,-0.24,-0.12,-0.25,-0.14,
  -0.24,-0.13,-0.25,-0.14,-0.26,-0.14,-0.27,-0.15,-0.28,-0.17,
  -0.3,-0.18,-0.29,-0.19,-0.31,-0.18,-0.29,-0.17,-0.27,-0.15,
  -0.25,-0.13,-0.24,-0.12,-0.25,-0.14,-0.23,-0.12,-0.24,-0.13,
  -0.25,-0.12,-0.24,-0.14,-0.23,-0.12,-0.25,-0.13,-0.24,-0.12,
  -0.25,-0.14,-0.23,-0.12,-0.24,-0.13,-0.25,-0.12,-0.24,-0.14,
  -0.25,-0.17,-0.29,-0.2,-0.3,-0.19,-0.26,-0.13,-0.24,-0.12,
  -0.25,-0.13,-0.24,-0.12,-0.25,-0.14,-0.23,-0.12,-0.24,-0.13,
  -0.25,-0.12,-0.24,-0.14,-0.23,-0.12,-0.25,-0.13,-0.24,-0.13
];

// Reference level lines drawn through the traces: [index, level]
const outdegreeLevel = [[1,-1.94],[220,-1.94],[240,-1.87],[640,-1.87],[660,-1.93],[900,-1.94],[1120,-1.97],[1320,-1.98],[1340,-1.9],[1500,-1.88]];
const reciprocityLevel = [[1,2.2],[375,2.15],[750,2.12],[1125,2.15],[1500,2.14]];

const seriesNames = [
  "outdegree (density)", "reciprocity", "transitive triplets",
  "indegree-popularity", "outdegree-activity", "rec.degree^(1/1) - activity"
];
const seriesColors = ["#000000", "#ff0000", "#00cd00", "#0000ff", "#00ffff", "#ff00ff"];
const xTicks = [0, 500, 1000, 1500];
const yTicks = [-2, -1, 0, 1, 2, 3, 4];

const series = [
  [outdegree, outdegreeMid, outdegreeAlt],
  [reciprocity, reciprocityMid, reciprocityAlt],
  [transitiveTriplets, transitiveTripletsMid, transitiveTripletsAlt],
  [indegreePopularity, indegreePopularityMid, indegreePopularityAlt],
  [outdegreeActivity, outdegreeActivityMid, outdegreeActivityAlt],
  [recDegreeActivity, recDegreeActivityMid, recDegreeActivityAlt]
];
const levels = [outdegreeLevel, reciprocityLevel];

// ---- layout ----
const svg = d3.select("#chart");
const plot = { left: 59, right: 735, top: 7, bottom: 481 };

const x = d3.scaleLinear().domain([-59, 1560]).range([plot.left, plot.right]);
const y = d3.scaleLinear().domain([-2.62, 4.3]).range([plot.bottom, plot.top]);

// points: one group per series, drawn in legend order
series.forEach((arrays, s) => {
  const pts = [];
  arrays[0].forEach((_, k) => {
    arrays.forEach((arr, a) => {
      if (k < arr.length) pts.push([1 + k * iterStep + drawOffsets[a], arr[k]]);
    });
  });
  svg.append("g")
    .selectAll("circle")
    .data(pts)
    .join("circle")
    .attr("cx", d => x(d[0]))
    .attr("cy", d => y(d[1]))
    .attr("r", 2.2)
    .attr("fill", "none")
    .attr("stroke", seriesColors[s])
    .attr("stroke-width", 0.95);
});

// level lines
const line = d3.line().x(d => x(d[0])).y(d => y(d[1]));
levels.forEach((pts, s) => {
  svg.append("path")
    .attr("d", line(pts))
    .attr("fill", "none")
    .attr("stroke", seriesColors[s])
    .attr("stroke-width", 1);
});

// frame
svg.append("rect")
  .attr("x", plot.left).attr("y", plot.top)
  .attr("width", plot.right - plot.left).attr("height", plot.bottom - plot.top)
  .attr("fill", "none").attr("stroke", "#000").attr("stroke-width", 1);

// x axis
const xAxis = svg.append("g").attr("transform", `translate(0,${plot.bottom})`)
  .call(d3.axisBottom(x).tickValues(xTicks).tickSize(7).tickPadding(8).tickFormat(d3.format("d")));
xAxis.select(".domain").remove();
xAxis.selectAll("text").attr("font-size", 10).attr("font-family", "Liberation Sans, Arial, sans-serif").attr("fill", "#222");

// y axis with labels parallel to the axis
const yAxis = svg.append("g").attr("transform", `translate(${plot.left},0)`)
  .call(d3.axisLeft(y).tickValues(yTicks).tickSize(7).tickFormat(d3.format("d")));
yAxis.select(".domain").remove();
yAxis.selectAll("text")
  .attr("font-size", 10)
  .attr("font-family", "Liberation Sans, Arial, sans-serif")
  .attr("fill", "#222")
  .attr("x", null).attr("dy", null)
  .attr("text-anchor", "middle")
  .attr("transform", "translate(-13,0) rotate(-90)");

// axis titles
svg.append("text")
  .attr("x", (plot.left + 732) / 2).attr("y", 518)
  .attr("text-anchor", "middle")
  .attr("font-size", 19)
  .text("index");
svg.append("text")
  .attr("transform", `translate(25,${(plot.top + plot.bottom) / 2}) rotate(-90)`)
  .attr("text-anchor", "middle")
  .attr("font-size", 18.5)
  .text("posterior mu");

// legend
const legend = svg.append("g");
seriesNames.forEach((name, s) => {
  const ly = 31 + s * 22.9;
  legend.append("circle")
    .attr("cx", 77).attr("cy", ly).attr("r", 4.2)
    .attr("fill", "none").attr("stroke", seriesColors[s]).attr("stroke-width", 1);
  legend.append("text")
    .attr("x", 95).attr("y", ly + 6.5)
    .attr("font-size", 19)
    .attr("fill", "#000")
    .text(name);
});
</script>
</body>
</html>
